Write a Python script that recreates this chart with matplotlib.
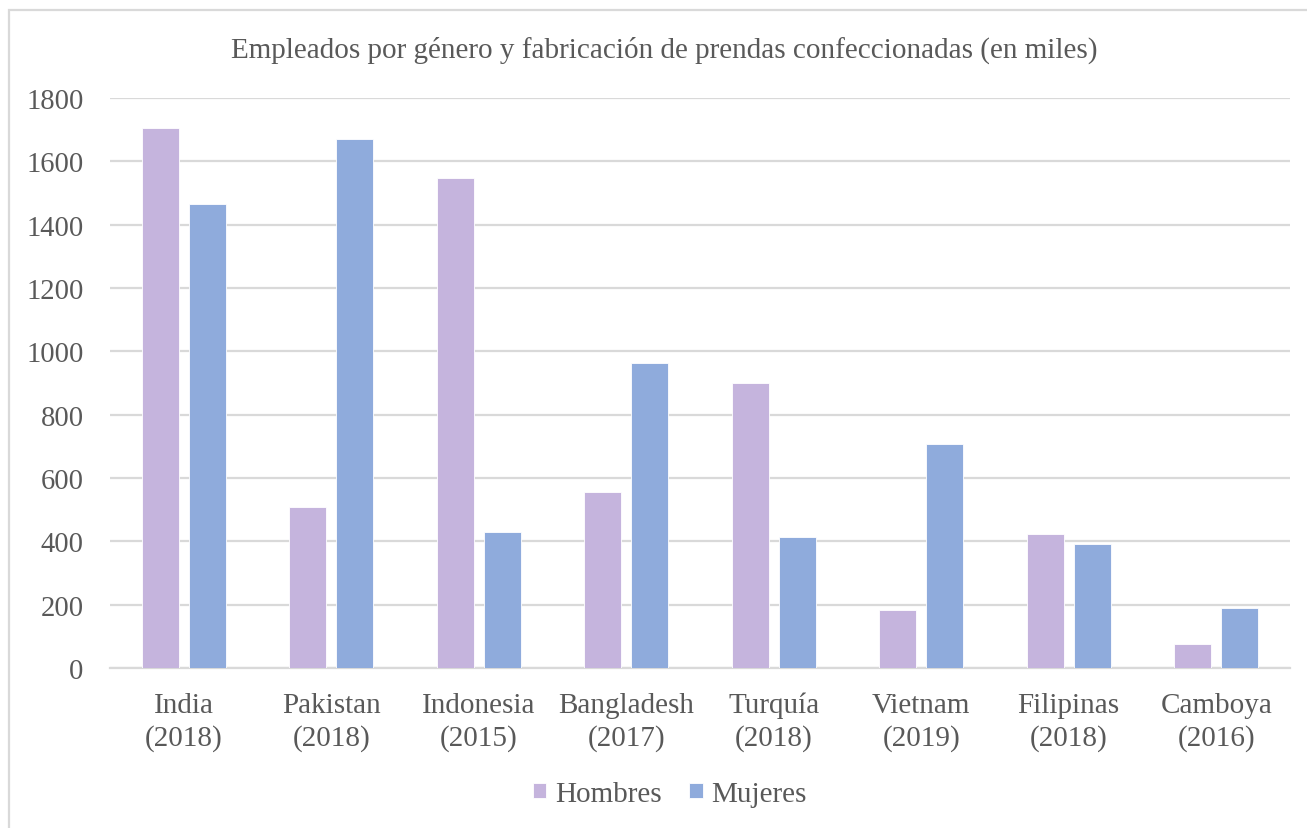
import numpy as np
import matplotlib.pyplot as plt
from matplotlib.patches import Rectangle

paises = ['India\n(2018)', 'Pakistan\n(2018)', 'Indonesia\n(2015)', 'Bangladesh\n(2017)',
          'Turquía\n(2018)', 'Vietnam\n(2019)', 'Filipinas\n(2018)', 'Camboya\n(2016)']
hombres = [1705, 508, 1547, 556, 900, 182, 422, 75]
mujeres = [1465, 1670, 430, 963, 414, 707, 391, 190]

col_h = '#C5B4DD'
col_m = '#8FABDC'
txt = '#595959'
grid = '#D9D9D9'

plt.rcParams['font.family'] = ['Liberation Serif', 'DejaVu Serif']

def main():
    fig = plt.figure(figsize=(13.07, 8.29), dpi=100)
    ax = fig.add_axes([110/1307, 1-669/829, 1180/1307, 570/829])

    x = np.arange(len(paises))
    w = 0.25
    off = 0.16
    ax.bar(x - off, hombres, w, color=col_h, edgecolor='white', linewidth=0.6, label='Hombres', zorder=3)
    ax.bar(x + off, mujeres, w, color=col_m, edgecolor='white', linewidth=0.6, label='Mujeres', zorder=3)

    ax.set_xlim(-0.5, len(paises) - 0.5)
    ax.set_ylim(0, 1800)
    ax.set_yticks(range(0, 1801, 200))
    ax.set_xticks(x)
    # baseline of the last line sits at the anchor, so every label lines up
    ax.set_xticklabels(paises, fontsize=21, color=txt, linespacing=1.3, va='baseline')
    ax.tick_params(axis='y', labelsize=20.6, labelcolor=txt, length=0, pad=19)
    ax.tick_params(axis='x', length=0, pad=55)
    ax.yaxis.grid(True, color=grid, linewidth=1.6, zorder=0)
    for s in ['top', 'right', 'left']:
        ax.spines[s].set_visible(False)
    ax.spines['bottom'].set_color(grid)
    ax.spines['bottom'].set_linewidth(1.6)

    fig.text(664/1307, 1-50/829, 'Empleados por género y fabricación de prendas confeccionadas (en miles)',
             ha='center', va='center', fontsize=21, color=txt)

    leg = fig.legend(loc='center', bbox_to_anchor=(670/1307, 1-795/829), ncol=2, frameon=False,
                     fontsize=21, handlelength=0.45, handleheight=0.45, handletextpad=0.3,
                     columnspacing=0.95)
    for t in leg.get_texts():
        t.set_color(txt)

    fig.patches.append(Rectangle((9/1307, -0.1), 1.2, 1-11/829+0.1, transform=fig.transFigure,
                                 fill=False, edgecolor=grid, linewidth=1.6))

    fig.savefig('out.png', dpi=100)


if __name__ == "__main__":
    main()
